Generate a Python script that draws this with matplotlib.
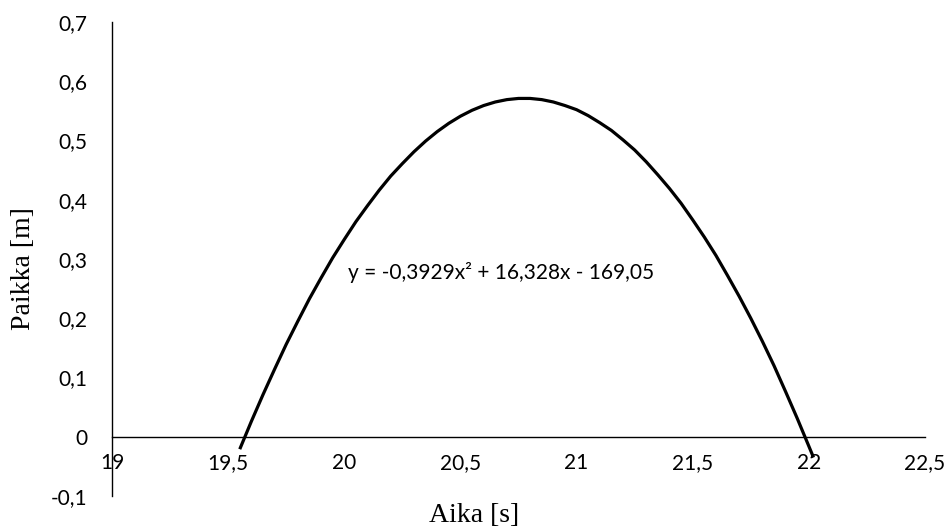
import matplotlib
matplotlib.use("Agg")
import matplotlib.pyplot as plt

aika = [19.55, 19.6, 19.65, 19.7, 19.75, 19.8, 19.85, 19.9, 19.95, 20.0, 20.05, 20.1,
        20.15, 20.2, 20.25, 20.3, 20.35, 20.4, 20.45, 20.5, 20.55, 20.6, 20.65, 20.7,
        20.75, 20.8, 20.85, 20.9, 20.95, 21.0, 21.05, 21.1, 21.15, 21.2, 21.25, 21.3,
        21.35, 21.4, 21.45, 21.5, 21.55, 21.6, 21.65, 21.7, 21.75, 21.8, 21.85, 21.9,
        21.95, 22.0, 22.02]
paikka = [-0.021, 0.026, 0.071, 0.114, 0.156, 0.195, 0.233, 0.268, 0.302, 0.333, 0.363,
          0.390, 0.416, 0.440, 0.461, 0.481, 0.499, 0.515, 0.529, 0.541, 0.551, 0.559,
          0.565, 0.569, 0.571, 0.571, 0.569, 0.565, 0.559, 0.552, 0.542, 0.530, 0.517,
          0.501, 0.484, 0.464, 0.442, 0.419, 0.394, 0.366, 0.337, 0.306, 0.272, 0.237,
          0.200, 0.161, 0.120, 0.076, 0.031, -0.016, -0.035]

x_ticks = [19, 19.5, 20, 20.5, 21, 21.5, 22, 22.5]
y_ticks = [-0.1, 0, 0.1, 0.2, 0.3, 0.4, 0.5, 0.6, 0.7]
equation = "y = -0,3929x² + 16,328x - 169,05"

def fi(v):
    return ("%g" % v).replace(".", ",")

fig = plt.figure(figsize=(9.51, 5.29), dpi=100)
ax = fig.add_axes([112 / 951, 33 / 529, 813 / 951, 474 / 529])

ax.plot(aika, paikka, color="black", linewidth=2.3,
        solid_capstyle="butt", solid_joinstyle="round")

ax.set_xlim(19, 22.5)
ax.set_ylim(-0.1, 0.7)
ax.spines["top"].set_visible(False)
ax.spines["right"].set_visible(False)
ax.spines["bottom"].set_position(("data", 0))
for s in ("left", "bottom"):
    ax.spines[s].set_linewidth(1.0)

ax.set_xticks(x_ticks)
ax.set_xticklabels([fi(v) for v in x_ticks])
ax.set_yticks(y_ticks)
ax.set_yticklabels([fi(v) for v in y_ticks])
ax.tick_params(axis="both", length=0, labelsize=15)
ax.tick_params(axis="x", pad=12)
ax.tick_params(axis="y", pad=18)
for lab in ax.get_xticklabels() + ax.get_yticklabels():
    lab.set_family("Lato")

ax.text(20.017, 0.278, equation, ha="left", va="center", fontsize=15, family="Lato")

fig.text(474 / 951, 1 - 515 / 529, "Aika [s]", ha="center", va="center",
         fontsize=20, family="Liberation Serif")
fig.text(24 / 951, 1 - 269 / 529, "Paikka [m]", ha="center", va="center",
         rotation=90, fontsize=20, family="Liberation Serif")

fig.savefig("out.png", dpi=100)
